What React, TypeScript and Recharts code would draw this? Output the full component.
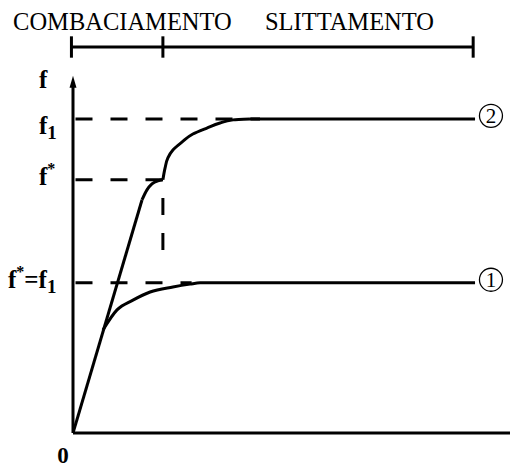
import React from 'react';
import {
  LineChart,
  Line,
  XAxis,
  YAxis,
  ReferenceLine,
  ReferenceDot,
} from 'recharts';

// livelli caratteristici (f1 = 100)
const F1 = 100;
const F_STAR = 80.6;
const F_STAR_F1 = 47.8;
const X_STAR = 28.8;

// tratto rettilineo iniziale (combaciamento)
const rettilineo = [
  { x: 0, y: 0 },
  { x: 22.1, y: 74.2 },
];

// raccordo del rettilineo fino a f*
const raccordo = [
  { x: 22.1, y: 74.2 },
  { x: 23.7, y: 77.4 },
  { x: 25.3, y: 79.3 },
  { x: 27.2, y: 80.3 },
  { x: 28.8, y: 80.6 },
];

// curva 2: risalita da f* fino a f1
const curva2Salita = [
  { x: 28.8, y: 80.6 },
  { x: 29.5, y: 84.4 },
  { x: 30.4, y: 87.6 },
  { x: 32.0, y: 90.1 },
  { x: 34.9, y: 92.6 },
  { x: 38.4, y: 95.2 },
  { x: 42.9, y: 97.1 },
  { x: 47.1, y: 98.7 },
  { x: 51.3, y: 99.7 },
  { x: 56.7, y: 100 },
];

const curva2Piano = [
  { x: 56.7, y: 100 },
  { x: 128.8, y: 100 },
];

// curva 1: si stacca dal rettilineo e tende a f*=f1
const curva1 = [
  { x: 9.6, y: 32.8 },
  { x: 14.1, y: 39.2 },
  { x: 19.2, y: 42.3 },
  { x: 24.7, y: 44.9 },
  { x: 32.0, y: 46.5 },
  { x: 37.5, y: 47.4 },
  { x: 40.7, y: 47.8 },
  { x: 128.8, y: 47.8 },
];

// barra superiore: estremi e tacche
const barraY = 122.9;
const barraTacche = [-0.5, X_STAR, 128.2];
const barraTesti = [
  { x: -19.2, text: 'COMBACIAMENTO' },
  { x: 61.5, text: 'SLITTAMENTO' },
];

const Y_TOP = 113.4;
const yTicks = [F_STAR_F1, F_STAR, F1, Y_TOP];

const SERIF = '"Liberation Serif", "Times New Roman", serif';

const YTick = ({ y, payload }: any) => {
  const v = payload.value;
  const common = { fontFamily: SERIF, fontWeight: 700, fontSize: 25, fill: '#000' };
  if (v === Y_TOP) {
    return <text x={39} y={y + 11} {...common}>f</text>;
  }
  if (v === F1) {
    return (
      <text x={39} y={y + 15} {...common}>
        f<tspan fontSize={19} dy={5}>1</tspan>
      </text>
    );
  }
  if (v === F_STAR) {
    return (
      <text x={39} y={y + 5} {...common}>
        f<tspan fontSize={16} dy={-11}>*</tspan>
      </text>
    );
  }
  return (
    <text x={8} y={y + 5} {...common}>
      f<tspan fontSize={16} dy={-11}>*</tspan>
      <tspan dy={11}>=f</tspan>
      <tspan fontSize={19} dy={5}>1</tspan>
    </text>
  );
};

const XTick = ({ x, y }: any) => (
  <text
    x={x - 10}
    y={y + 22}
    textAnchor="middle"
    fontFamily={SERIF}
    fontWeight={700}
    fontSize={23}
    fill="#000"
  >
    0
  </text>
);

const Cerchio = (num: string) => (props: any) => (
  <g>
    <circle cx={props.cx} cy={props.cy} r={11.5} fill="#fff" stroke="#000" strokeWidth={1.3} />
    <text
      x={props.cx}
      y={props.cy + 7}
      textAnchor="middle"
      fontFamily={SERIF}
      fontSize={21}
      fill="#000"
    >
      {num}
    </text>
  </g>
);

const Freccia = (props: any) => (
  <polygon
    points={`${props.cx},${props.cy - 1} ${props.cx - 3.5},${props.cy + 11} ${props.cx + 3.5},${props.cy + 11}`}
    fill="#000"
  />
);

const Testo = (text: string) => (props: any) => (
  <text x={props.cx} y={props.cy} fontFamily={SERIF} fontSize={24.5} fill="#000">
    {text}
  </text>
);

const dash = { stroke: '#000', strokeWidth: 3, strokeDasharray: '17 18', ifOverflow: 'visible' as const };
const solid = { stroke: '#000', strokeWidth: 3, ifOverflow: 'visible' as const };
const serie = { dataKey: 'y', stroke: '#000', strokeWidth: 3, dot: false, isAnimationActive: false };

export default function App() {
  return (
    <div style={{ position: 'absolute', left: 0, top: 0, width: 511, height: 471, background: '#fff' }}>
      <LineChart
        width={511}
        height={471}
        margin={{ top: 9, right: 1, left: 0, bottom: 0 }}
      >
        <XAxis
          type="number"
          dataKey="x"
          domain={[0, 140]}
          allowDataOverflow
          ticks={[0]}
          tick={<XTick />}
          tickLine={false}
          axisLine={{ stroke: '#000', strokeWidth: 3 }}
          height={38}
        />
        <YAxis
          type="number"
          domain={[0, 135]}
          allowDataOverflow
          ticks={yTicks}
          interval={0}
          tick={<YTick />}
          tickLine={false}
          axisLine={false}
          width={73}
        />

        {/* asse f con freccia */}
        <ReferenceLine segment={[{ x: 0, y: 0 }, { x: 0, y: 111 }]} {...solid} />
        <ReferenceDot x={0} y={Y_TOP} r={0} ifOverflow="visible" shape={Freccia} />

        {/* linee tratteggiate di riferimento */}
        <ReferenceLine segment={[{ x: 0.8, y: F1 }, { x: 59.9, y: F1 }]} {...dash} />
        <ReferenceLine segment={[{ x: 0.8, y: F_STAR }, { x: X_STAR, y: F_STAR }]} {...dash} />
        <ReferenceLine segment={[{ x: 0.8, y: F_STAR_F1 }, { x: 38, y: F_STAR_F1 }]} {...dash} />
        <ReferenceLine segment={[{ x: X_STAR, y: 74.8 }, { x: X_STAR, y: 56.7 }]} {...dash} />

        {/* barra superiore */}
        <ReferenceLine
          segment={[{ x: barraTacche[0], y: barraY }, { x: barraTacche[2], y: barraY }]}
          {...solid}
        />
        {barraTacche.map((t) => (
          <ReferenceLine
            key={t}
            segment={[{ x: t, y: barraY - 3.4 }, { x: t, y: barraY + 3.4 }]}
            {...solid}
          />
        ))}
        {barraTesti.map((b) => (
          <ReferenceDot
            key={b.text}
            x={b.x}
            y={128.3}
            r={0}
            ifOverflow="visible"
            shape={Testo(b.text)}
          />
        ))}

        <Line data={rettilineo} type="linear" {...serie} />
        <Line data={raccordo} type="monotone" {...serie} />
        <Line data={curva2Salita} type="monotoneY" {...serie} />
        <Line data={curva2Piano} type="linear" {...serie} />
        <Line data={curva1} type="monotone" {...serie} />

        <ReferenceDot x={133.9} y={F1 + 1} r={0} ifOverflow="visible" shape={Cerchio('2')} />
        <ReferenceDot x={133.9} y={F_STAR_F1 + 1} r={0} ifOverflow="visible" shape={Cerchio('1')} />
      </LineChart>
    </div>
  );
}
